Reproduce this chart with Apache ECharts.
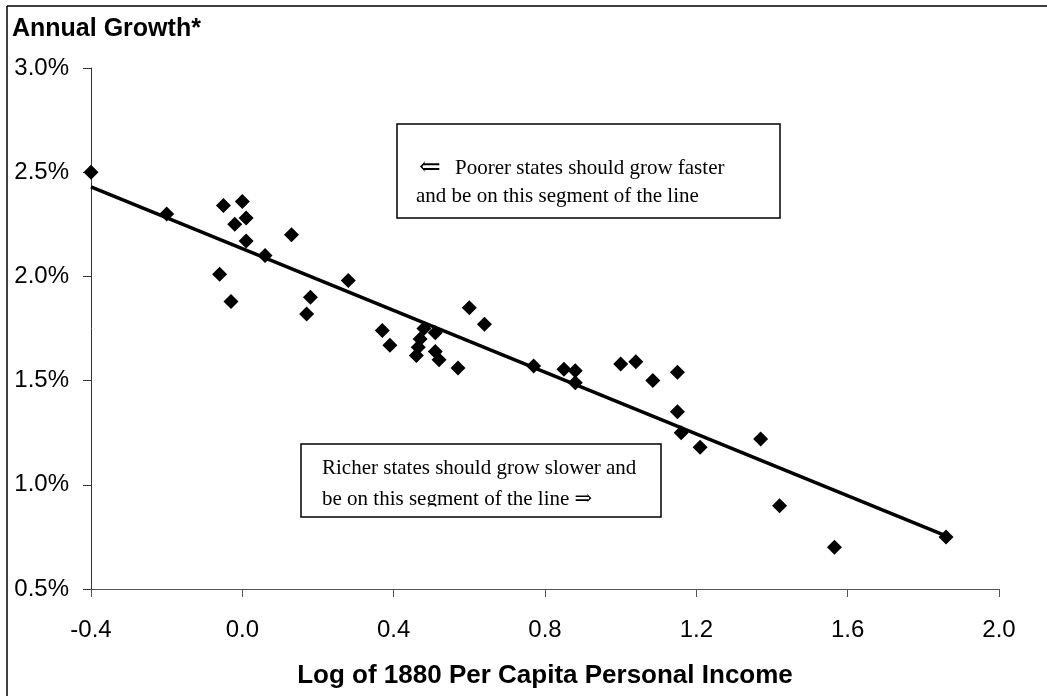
<!DOCTYPE html>
<html>
<head>
<meta charset="utf-8">
<script src="https://cdn.jsdelivr.net/npm/echarts@6/dist/echarts.min.js"></script>
<style>
html,body{margin:0;padding:0;background:#fff;}
#chart{width:1047px;height:696px;}
</style>
</head>
<body>
<div id="chart"></div>
<script>
// Log of 1880 per capita personal income (x) and annual growth in % (y)
var incomeLog = [-0.40, -0.20, -0.05, 0.00, -0.02, 0.01, 0.01, 0.06, 0.13, -0.06,
  -0.03, 0.28, 0.18, 0.17, 0.37, 0.39, 0.48, 0.47, 0.465, 0.46,
  0.51, 0.51, 0.52, 0.57, 0.60, 0.64, 0.77, 0.85, 0.88, 0.88,
  1.00, 1.04, 1.085, 1.15, 1.15, 1.16, 1.21, 1.37, 1.42, 1.565, 1.86];
var growthPct = [2.50, 2.30, 2.34, 2.36, 2.25, 2.28, 2.17, 2.10, 2.20, 2.01,
  1.88, 1.98, 1.90, 1.82, 1.74, 1.67, 1.75, 1.70, 1.66, 1.62,
  1.73, 1.64, 1.60, 1.56, 1.85, 1.77, 1.57, 1.555, 1.547, 1.49,
  1.58, 1.59, 1.50, 1.54, 1.35, 1.25, 1.18, 1.22, 0.90, 0.70, 0.75];
// trend line end points
var trendX = [-0.40, 1.86];
var trendY = [2.43, 0.755];

var titleText = 'Annual Growth*';
var xName = 'Log of 1880 Per Capita Personal Income';
var noteTop = ['\u21D0', 'Poorer states should grow faster', 'and be on this segment of the line'];
var noteBottom = ['Richer states should grow slower and', 'be on this segment of the line \u21D2'];

var points = incomeLog.map(function (x, i) { return [x, growthPct[i]]; });
var trend = trendX.map(function (x, i) { return [x, trendY[i]]; });

var sans = "'Liberation Sans', Arial, sans-serif";
var serif = "'Liberation Serif', 'Times New Roman', 'DejaVu Serif', serif";

var chart = echarts.init(document.getElementById('chart'), null, {renderer: 'canvas'});
chart.setOption({
  animation: false,
  backgroundColor: '#fff',
  grid: {left: 91, right: 48, top: 68, bottom: 107, containLabel: false},
  xAxis: {
    type: 'value', min: -0.4, max: 2.0, interval: 0.4,
    name: xName, nameLocation: 'middle', nameGap: 74,
    nameTextStyle: {fontFamily: sans, fontSize: 26, fontWeight: 'bold', color: '#000'},
    axisLine: {show: true, onZero: false, lineStyle: {color: '#555', width: 1}},
    axisTick: {show: true, inside: false, length: 8, lineStyle: {color: '#555'}},
    axisLabel: {fontFamily: sans, fontSize: 24, color: '#000', margin: 29,
      formatter: function (v) { return (Math.abs(v) < 1e-9 ? 0 : v).toFixed(1); }},
    splitLine: {show: false}
  },
  yAxis: {
    type: 'value', min: 0.5, max: 3.0, interval: 0.5,
    axisLine: {show: true, onZero: false, lineStyle: {color: '#333', width: 1}},
    axisTick: {show: true, inside: false, length: 8, lineStyle: {color: '#333'}},
    axisLabel: {fontFamily: sans, fontSize: 24, color: '#000', margin: 22,
      formatter: function (v) { return v.toFixed(1) + '%'; }},
    splitLine: {show: false}
  },
  series: [
    {
      type: 'line', data: trend, showSymbol: false, symbol: 'none',
      lineStyle: {color: '#000', width: 3.5}, z: 2, silent: true
    },
    {
      type: 'scatter', data: points, symbol: 'diamond', symbolSize: 15,
      itemStyle: {color: '#000', opacity: 1}, z: 3
    }
  ],
  graphic: [
    {type: 'line', shape: {x1: 7, y1: 6, x2: 1100, y2: 6}, style: {stroke: '#000', lineWidth: 1.5}, z: 10},
    {type: 'line', shape: {x1: 7, y1: 6, x2: 7, y2: 800}, style: {stroke: '#000', lineWidth: 1.5}, z: 10},
    {type: 'text', x: 12, y: 29, style: {text: titleText, font: 'bold 25px ' + sans, fill: '#000', textVerticalAlign: 'middle'}, z: 10},
    // top note box
    {type: 'rect', shape: {x: 397, y: 124, width: 383, height: 94}, style: {fill: '#fff', stroke: '#000', lineWidth: 1.5}, z: 20},
    {type: 'text', x: 419, y: 168, style: {text: noteTop[0], font: '26px ' + serif, fill: '#000', textVerticalAlign: 'middle'}, z: 21},
    {type: 'text', x: 455, y: 168, style: {text: noteTop[1], font: '21px ' + serif, fill: '#000', textVerticalAlign: 'middle'}, z: 21},
    {type: 'text', x: 416, y: 196, style: {text: noteTop[2], font: '21px ' + serif, fill: '#000', textVerticalAlign: 'middle'}, z: 21},
    // bottom note box
    {type: 'rect', shape: {x: 301, y: 444, width: 360, height: 73}, style: {fill: '#fff', stroke: '#000', lineWidth: 1.5}, z: 20},
    {type: 'text', x: 322, y: 468, style: {text: noteBottom[0], font: '21px ' + serif, fill: '#000', textVerticalAlign: 'middle'}, z: 21},
    {type: 'text', x: 322, y: 499, style: {text: noteBottom[1], font: '21px ' + serif, fill: '#000', textVerticalAlign: 'middle'}, z: 21},
    {type: 'rect', shape: {x: 302, y: 506.5, width: 358, height: 9.5}, style: {fill: '#fff'}, z: 22}
  ]
});
</script>
</body>
</html>
